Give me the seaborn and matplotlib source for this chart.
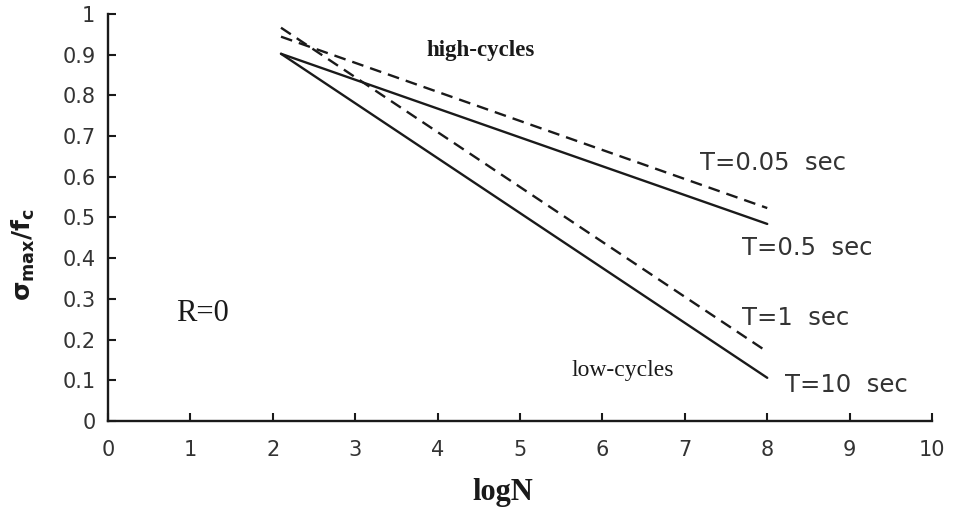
import matplotlib
matplotlib.use("Agg")
import matplotlib.pyplot as plt
import seaborn as sns
import pandas as pd

# Data
logN_pts = [2.1, 8.0]
solid_high = [0.902, 0.484]   # solid, shallow
dashed_high = [0.944, 0.523]  # dashed, shallow
solid_low = [0.902, 0.106]    # solid, steep
dashed_low = [0.966, 0.170]   # dashed, steep

series = {
    "solid_high": (solid_high, "solid"),
    "dashed_high": (dashed_high, "dashed"),
    "solid_low": (solid_low, "solid"),
    "dashed_low": (dashed_low, "dashed"),
}
rows = []
for name, (vals, kind) in series.items():
    for x, y in zip(logN_pts, vals):
        rows.append({"logN": x, "ratio": y, "series": name, "kind": kind})
df = pd.DataFrame(rows)

x_ticks = list(range(0, 11))
y_ticks = [0, 0.1, 0.2, 0.3, 0.4, 0.5, 0.6, 0.7, 0.8, 0.9, 1]
y_tick_labels = ["0", "0.1", "0.2", "0.3", "0.4", "0.5", "0.6", "0.7", "0.8", "0.9", "1"]

sns.set_style("ticks")
plt.rcParams["font.family"] = ["DejaVu Sans"]

fig = plt.figure(figsize=(9.55, 5.14), dpi=100)
ax = fig.add_axes([0.113, 0.181, 0.863, 0.792])

ink = "#1a1a1a"
grey = "#333333"
sns.lineplot(data=df, x="logN", y="ratio", units="series", estimator=None,
             style="kind", dashes={"solid": "", "dashed": (5, 3)},
             color=ink, linewidth=1.7, legend=False, ax=ax)

ax.set_xlim(0, 10)
ax.set_ylim(0, 1)
ax.set_xticks(x_ticks)
ax.set_xticklabels([str(t) for t in x_ticks])
ax.set_yticks(y_ticks)
ax.set_yticklabels(y_tick_labels)
ax.tick_params(direction="in", length=6, width=1.5, colors=ink, labelsize=15,
               labelcolor=grey)
ax.tick_params(axis="x", pad=14)
ax.tick_params(axis="y", pad=9)
sns.despine(ax=ax)
for s in ("left", "bottom"):
    ax.spines[s].set_linewidth(1.7)
    ax.spines[s].set_color(ink)

ax.set_xlabel("logN", fontsize=22, fontweight="bold", family="Liberation Serif",
              color=ink)
ax.xaxis.set_label_coords(0.479, -0.14)
ax.set_ylabel(r"$\mathbf{\sigma_{max}/f_c}$", fontsize=18, color=ink)
ax.yaxis.set_label_coords(-0.086, 0.408)

serif = "Liberation Serif"
ax.text(3.87, 0.91, "high-cycles", fontsize=16.5, fontweight="bold", family=serif,
        color=ink, va="center", ha="left")
ax.text(5.63, 0.125, "low-cycles", fontsize=17, family=serif,
        color=ink, va="center", ha="left")
ax.text(0.83, 0.265, "R=0", fontsize=22, family=serif, color=ink, va="center", ha="left")

tlabels = [("T=0.05  sec", 7.18, 0.634), ("T=0.5  sec", 7.69, 0.425),
           ("T=1  sec", 7.69, 0.253), ("T=10  sec", 8.22, 0.088)]
for txt, x, y in tlabels:
    ax.text(x, y, txt, fontsize=17.5, color=grey, va="center", ha="left")

fig.savefig("out.png", dpi=100)
